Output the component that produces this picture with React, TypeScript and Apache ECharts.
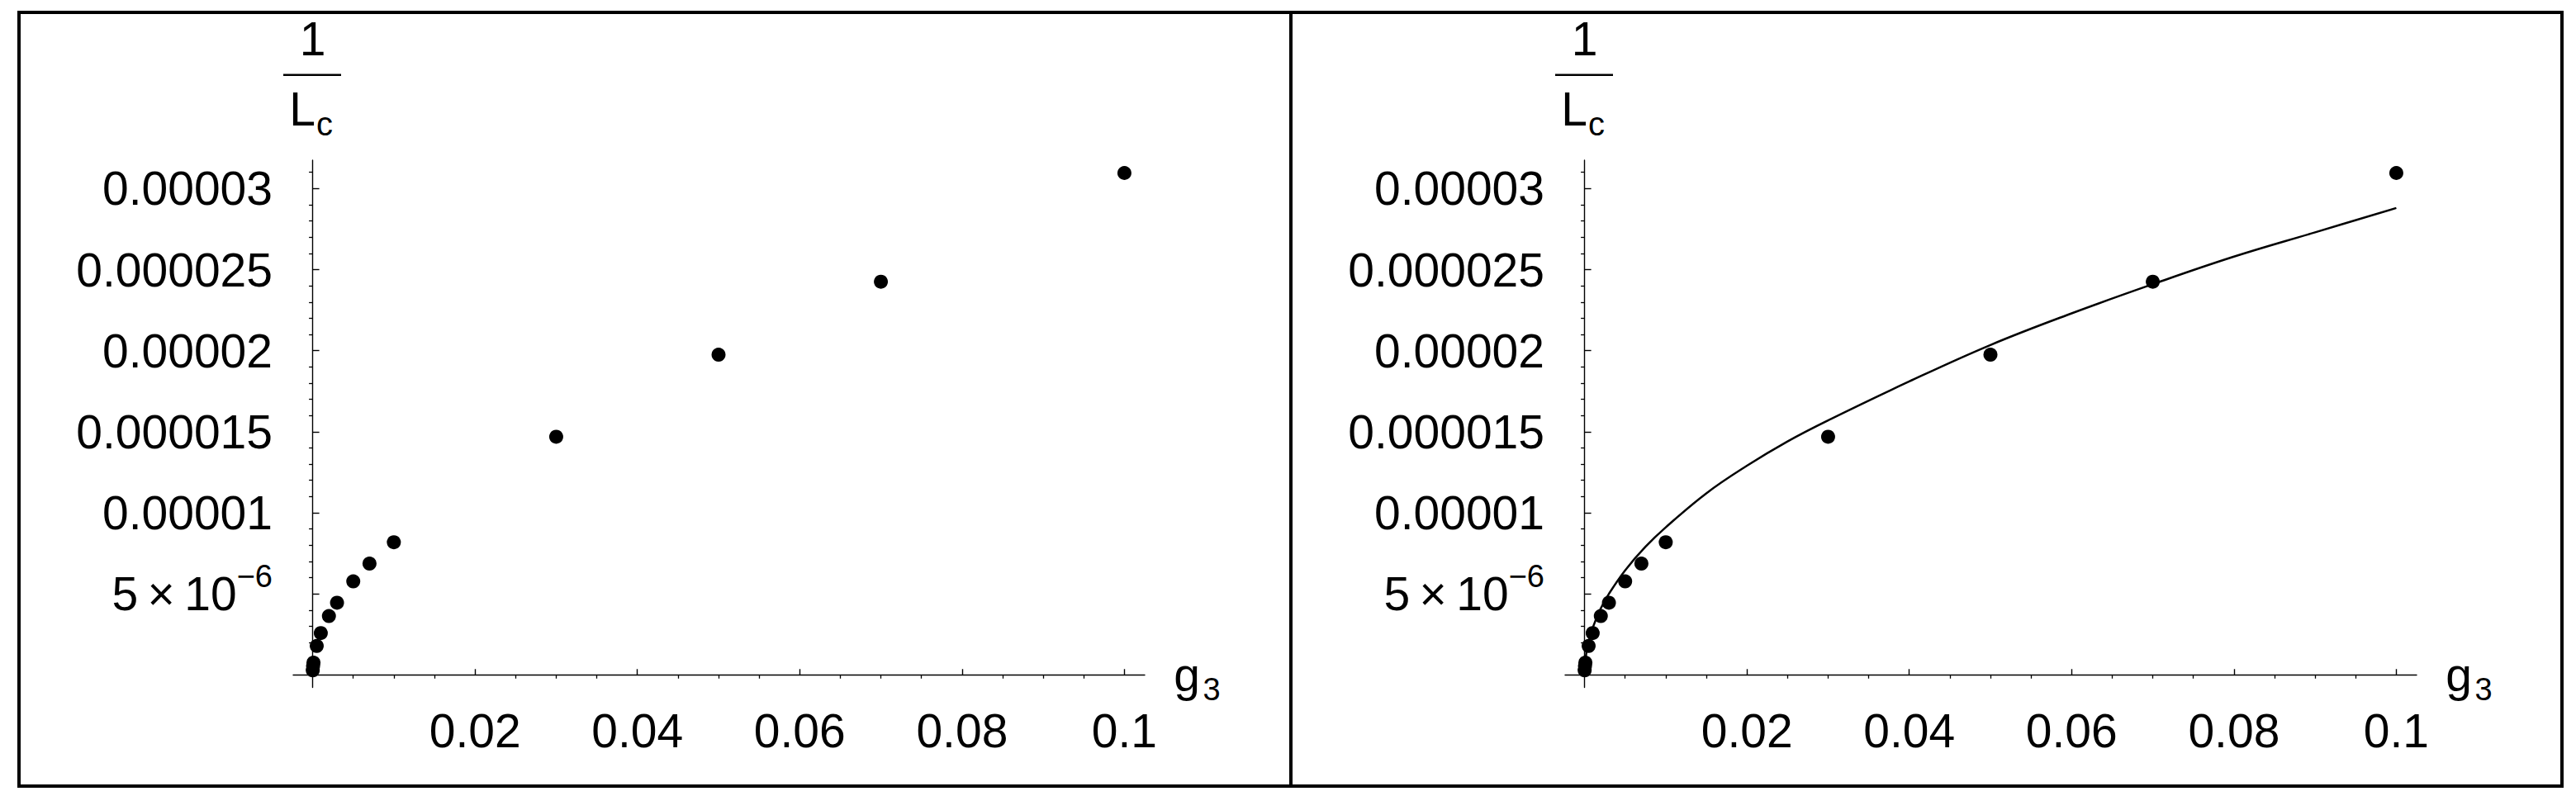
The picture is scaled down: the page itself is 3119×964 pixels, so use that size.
import { useEffect, useRef } from "react";
import * as echarts from "echarts";

// g3 values and measured 1/Lc values (dots, same in both panels)
const gValues = [0.00001, 0.00005, 0.0001, 0.0005, 0.001, 0.002, 0.003, 0.005, 0.007, 0.01, 0.03, 0.05, 0.07, 0.1];
const invLc = [0.28e-6, 0.55e-6, 0.75e-6, 1.78e-6, 2.58e-6, 3.63e-6, 4.45e-6, 5.77e-6, 6.86e-6, 8.18e-6, 14.69e-6, 19.75e-6, 24.25e-6, 30.96e-6];

// fitted curve (right panel)
const fitG = [0, 0.0002, 0.0005, 0.001, 0.002, 0.003, 0.005, 0.0075, 0.01, 0.015, 0.02, 0.025, 0.03, 0.04, 0.05, 0.06, 0.07, 0.08, 0.09, 0.1];
const fitY = [0, 1.3e-6, 2.05e-6, 2.9e-6, 4.1e-6, 5.0e-6, 6.45e-6, 7.9e-6, 9.1e-6, 11.2e-6, 12.9e-6, 14.4e-6, 15.7e-6, 18.1e-6, 20.35e-6, 22.3e-6, 24.1e-6, 25.8e-6, 27.3e-6, 28.8e-6];

// axis ticks and labels
const xTickValues = [0.02, 0.04, 0.06, 0.08, 0.1];
const xTickLabels = ["0.02", "0.04", "0.06", "0.08", "0.1"];
const xMinorTicks = [0.005, 0.01, 0.015, 0.025, 0.03, 0.035, 0.045, 0.05, 0.055, 0.065, 0.07, 0.075, 0.085, 0.09, 0.095];
const yTickValues = [5e-6, 1e-5, 1.5e-5, 2e-5, 2.5e-5, 3e-5];
const yTickLabels = ["5\u2009×\u200910^−6", "0.00001", "0.000015", "0.00002", "0.000025", "0.00003"];
const yMinorTicks = [1e-6, 2e-6, 3e-6, 4e-6, 6e-6, 7e-6, 8e-6, 9e-6, 11e-6, 12e-6, 13e-6, 14e-6, 16e-6, 17e-6, 18e-6, 19e-6, 21e-6, 22e-6, 23e-6, 24e-6, 26e-6, 27e-6, 28e-6, 29e-6, 31e-6];
const xName = ["g", "3"];
const yName = ["1", "L", "c"];

const FONT = "'Liberation Sans', Arial, Helvetica, sans-serif";
const X_MIN = -0.0024;
const X_MAX = 0.1025;
const Y_MIN = -0.78e-6;
const Y_MAX = 31.75e-6;
const PANEL_SHIFT = 1540;

function fmtX(v: number) {
  const i = xTickValues.findIndex((t) => Math.abs(t - v) < 1e-9);
  return i >= 0 ? xTickLabels[i] : "";
}
function fmtY(v: number) {
  const i = yTickValues.findIndex((t) => Math.abs(t - v) < 1e-12);
  if (i < 0) return "";
  const s = yTickLabels[i];
  if (s.includes("^")) {
    const [b, e] = s.split("^");
    return b + "{s|" + e + "}";
  }
  return s;
}

export default function App() {
  const ref = useRef<HTMLDivElement>(null);
  useEffect(() => {
    if (!ref.current) return;
    const chart = echarts.init(ref.current, undefined, { renderer: "svg" });
    const grids: any[] = [];
    const xAxes: any[] = [];
    const yAxes: any[] = [];
    const series: any[] = [];
    const graphic: any[] = [];

    for (let p = 0; p < 2; p++) {
      const off = p * PANEL_SHIFT;
      grids.push({ left: 355 + off, top: 194, width: 1031, height: 638.6, outerBoundsMode: "none", containLabel: false });
      const xi = p * 2;
      const yi = p * 2;
      xAxes.push({
        type: "value", gridIndex: p, min: X_MIN, max: X_MAX,
        axisLine: { show: true, onZero: true, onZeroAxisIndex: yi, lineStyle: { color: "#000", width: 1.4 } },
        axisTick: { show: true, inside: true, length: 7, customValues: xTickValues, lineStyle: { color: "#000", width: 1.4 } },
        axisLabel: { show: true, customValues: xTickValues, formatter: fmtX, margin: 24, color: "#000", fontSize: 57, fontFamily: FONT, lineHeight: 57 },
        splitLine: { show: false }, minorTick: { show: false },
      });
      xAxes.push({
        type: "value", gridIndex: p, min: X_MIN, max: X_MAX,
        axisLine: { show: false, onZero: true, onZeroAxisIndex: yi },
        axisTick: { show: true, inside: true, length: 4.5, customValues: xMinorTicks, lineStyle: { color: "#000", width: 1.3 } },
        axisLabel: { show: false },
        splitLine: { show: false }, minorTick: { show: false },
      });
      yAxes.push({
        type: "value", gridIndex: p, min: Y_MIN, max: Y_MAX,
        axisLine: { show: true, onZero: true, onZeroAxisIndex: xi, lineStyle: { color: "#000", width: 1.4 } },
        axisTick: { show: true, inside: true, length: 8, customValues: yTickValues, lineStyle: { color: "#000", width: 1.4 } },
        axisLabel: {
          show: true, customValues: yTickValues, formatter: fmtY, margin: 25, color: "#000", fontSize: 57, fontFamily: FONT, lineHeight: 57,
          rich: { s: { fontSize: 38, fontFamily: FONT, color: "#000", lineHeight: 40, padding: [0, 0, 42, 0] } },
        },
        splitLine: { show: false }, minorTick: { show: false },
      });
      yAxes.push({
        type: "value", gridIndex: p, min: Y_MIN, max: Y_MAX,
        axisLine: { show: false, onZero: true, onZeroAxisIndex: xi },
        axisTick: { show: true, inside: true, length: 4.5, customValues: yMinorTicks, lineStyle: { color: "#000", width: 1.3 } },
        axisLabel: { show: false },
        splitLine: { show: false }, minorTick: { show: false },
      });

      series.push({
        type: "scatter", xAxisIndex: xi, yAxisIndex: yi, symbol: "circle", symbolSize: 17,
        itemStyle: { color: "#000", opacity: 1 }, z: 5,
        data: gValues.map((g, i) => [g, invLc[i]]),
      });
      if (p === 1) {
        series.push({
          type: "line", xAxisIndex: xi, yAxisIndex: yi, showSymbol: false, smooth: 0.4,
          lineStyle: { color: "#000", width: 2.5, opacity: 1 }, z: 4,
          data: fitG.map((g, i) => [g, fitY[i]]),
        });
      }

      // axis labels drawn as text
      graphic.push(
        { type: "text", x: 378.6 + off, y: 47, style: { text: yName[0], fill: "#000", fontSize: 57, fontFamily: FONT, textAlign: "center", textVerticalAlign: "middle" } },
        { type: "line", shape: { x1: 343 + off, y1: 90.7, x2: 413 + off, y2: 90.7 }, style: { stroke: "#000", lineWidth: 2.5 } },
        { type: "text", x: 366 + off, y: 131.5, style: { text: yName[1], fill: "#000", fontSize: 57, fontFamily: FONT, textAlign: "center", textVerticalAlign: "middle" } },
        { type: "text", x: 383 + off, y: 150, style: { text: yName[2], fill: "#000", fontSize: 40, fontFamily: FONT, textAlign: "left", textVerticalAlign: "middle" } },
        { type: "text", x: 1437 + off, y: 817, style: { text: xName[0], fill: "#000", fontSize: 57, fontFamily: FONT, textAlign: "center", textVerticalAlign: "middle" } },
        { type: "text", x: 1467 + off, y: 835, style: { text: xName[1], fill: "#000", fontSize: 38, fontFamily: FONT, textAlign: "center", textVerticalAlign: "middle" } },
      );
    }

    graphic.push(
      { type: "rect", shape: { x: 23, y: 15, width: 3079, height: 937 }, style: { fill: "none", stroke: "#000", lineWidth: 4 } },
      { type: "line", shape: { x1: 1563, y1: 15, x2: 1563, y2: 952 }, style: { stroke: "#000", lineWidth: 4 } },
    );

    chart.setOption({
      animation: false,
      backgroundColor: "#fff",
      textStyle: { fontFamily: FONT },
      grid: grids,
      xAxis: xAxes,
      yAxis: yAxes,
      series,
      graphic,
    });
    return () => chart.dispose();
  }, []);
  return <div ref={ref} style={{ position: "absolute", left: 0, top: 0, width: 3119, height: 964 }} />;
}
